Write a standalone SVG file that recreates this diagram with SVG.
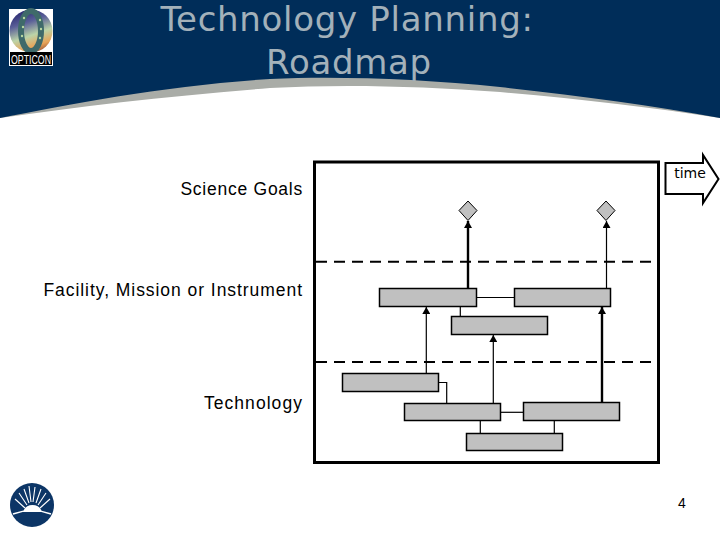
<svg xmlns="http://www.w3.org/2000/svg" width="720" height="540" viewBox="0 0 720 540">
<style>
.box{fill:#c0c0c0;stroke:#000;stroke-width:1.5}
.dia{fill:#c0c0c0;stroke:#000;stroke-width:1}
.thin{fill:none;stroke:#000;stroke-width:1.2}
.thick{fill:none;stroke:#000;stroke-width:2.4}
.dash{fill:none;stroke:#000;stroke-width:2;stroke-dasharray:11 7}
.lbl{font-family:"Liberation Sans",Arial,sans-serif;font-size:17.5px;fill:#000;text-anchor:end}
.title{font-family:"DejaVu Sans",sans-serif;font-size:34px;fill:#a3b1ba;text-anchor:middle;letter-spacing:0.7px}
</style>
<defs>
<marker id="ah" markerUnits="userSpaceOnUse" markerWidth="8" markerHeight="8" refX="4" refY="0" orient="0" viewBox="0 0 8 8"><path d="M0 7 L4 0 L8 7 Z" fill="#000"/></marker>
<linearGradient id="orb" x1="0.3" y1="0" x2="0.65" y2="1">
<stop offset="0" stop-color="#26266e"/><stop offset="0.3" stop-color="#5a5f98"/><stop offset="0.6" stop-color="#bcd4a8"/><stop offset="0.85" stop-color="#e8a458"/><stop offset="1" stop-color="#a05a38"/>
</linearGradient>
</defs>
<rect width="720" height="540" fill="#fff"/>
<g id="header">
<path d="M0 118C80 106 170 96 270 88C340 84 420 86 500 92C580 99 650 107 720 118V0H0Z" fill="#a9aca7"/>
<path d="M0 118C70 104 170 85 270 79C340 76 420 79 500 87C580 96 650 105 720 118V0H0Z" fill="#002d59"/>
</g>
<g id="title">
<text class="title" x="347" y="31">Technology Planning:</text>
<text class="title" x="349" y="74">Roadmap</text>
</g>
<g id="opticon-logo">
<rect x="9" y="9" width="44" height="57" fill="#fff"/>
<circle cx="31" cy="31" r="21.5" fill="url(#orb)"/>
<ellipse cx="31" cy="31" rx="10" ry="20" fill="none" stroke="#3f6a6a" stroke-width="6"/>
<g fill="#b8d8a0"><circle cx="23" cy="27" r="1.2"/><circle cx="22" cy="36" r="1.2"/><circle cx="24" cy="18" r="1.2"/><circle cx="40" cy="20" r="1.2"/><circle cx="41" cy="29" r="1.2"/><circle cx="40" cy="38" r="1.2"/></g>
<rect x="10" y="52" width="42" height="13" fill="#000"/>
<text x="31" y="64" font-family="Liberation Sans Narrow,Liberation Sans,sans-serif" font-size="13" fill="#fff" text-anchor="middle" textLength="40" lengthAdjust="spacingAndGlyphs">OPTICON</text>
</g>
<g id="stfc-logo">
<circle cx="32" cy="505" r="22" fill="#0c3566"/>
<path d="M15 499L25 508M19 493L27 505M24 489L29 503M29 486L31 502M35 487L33 502M41 489L36 503M46 493L38 505M50 499L40 508" stroke="#fff" stroke-width="1.1" fill="none"/>
<path d="M23 512A10 10 0 0 1 42 512Z" fill="#fff"/>
<path d="M13 514Q32 507 51 514" stroke="#fff" stroke-width="1.6" fill="none"/>
</g>
<g id="frame">
<rect x="314.5" y="162" width="344" height="300.5" fill="#fff" stroke="#000" stroke-width="3"/>
<line class="dash" x1="316" y1="261.7" x2="657" y2="261.7"/>
<line class="dash" x1="316" y1="362" x2="657" y2="362"/>
</g>
<g id="connectors">
<path class="thick" d="M468 288V221" marker-end="url(#ah)"/>
<path class="thin" d="M606.5 288V221" marker-end="url(#ah)"/>
<path class="thin" d="M426.3 373V307" marker-end="url(#ah)"/>
<path class="thick" d="M602 403V307" marker-end="url(#ah)"/>
<path class="thin" d="M493.3 403V335" marker-end="url(#ah)"/>
<path class="thin" d="M476 297.5H514"/>
<path class="thin" d="M460.3 306V316"/>
<path class="thin" d="M438 382.5H446.7V403"/>
<path class="thin" d="M500 412.3H523"/>
<path class="thin" d="M480.3 420V433"/>
<path class="thin" d="M554.3 420V433"/>
</g>
<g id="goal-1"><path class="dia" d="M468 201L477 210.5L468 220.5L459 210.5Z"/></g>
<g id="goal-2"><path class="dia" d="M606 201L615 210.5L606 220.5L597 210.5Z"/></g>
<g id="fac-1"><rect class="box" x="379.5" y="288.5" width="97" height="18"/></g>
<g id="fac-2"><rect class="box" x="514.5" y="288.5" width="96" height="18"/></g>
<g id="fac-3"><rect class="box" x="451.5" y="316.5" width="96" height="18"/></g>
<g id="tech-1"><rect class="box" x="342.5" y="373.5" width="96" height="18"/></g>
<g id="tech-2"><rect class="box" x="404.5" y="403.5" width="96" height="17"/></g>
<g id="tech-3"><rect class="box" x="523.5" y="402.5" width="96" height="18"/></g>
<g id="tech-4"><rect class="box" x="466.5" y="433.5" width="96" height="17"/></g>
<g id="labels">
<text class="lbl" x="303" y="195" letter-spacing="0.75">Science Goals</text>
<text class="lbl" x="303" y="296" letter-spacing="0.95">Facility, Mission or Instrument</text>
<text class="lbl" x="303" y="409" letter-spacing="1.05">Technology</text>
</g>
<g id="time">
<path d="M703 163H665.5V194H703V203L718.5 179L703 155Z" fill="#fff" stroke="#000" stroke-width="2"/>
<text x="690" y="178" font-family="DejaVu Sans,sans-serif" font-size="14" fill="#000" text-anchor="middle">time</text>
</g>
<text id="page" x="682" y="508" font-family="Liberation Sans,sans-serif" font-size="14" fill="#000" text-anchor="middle">4</text>
</svg>
